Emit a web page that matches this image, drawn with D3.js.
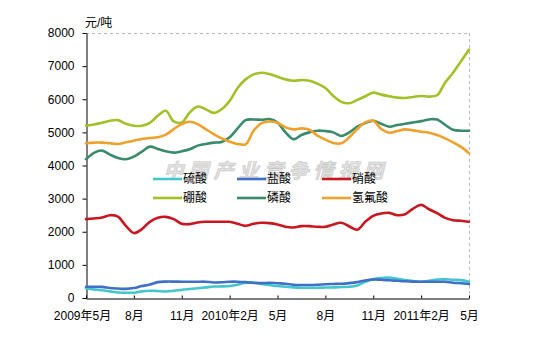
<!DOCTYPE html>
<html>
<head>
<meta charset="utf-8">
<script src="https://cdn.jsdelivr.net/npm/d3@7"></script>
<style>
  html, body { margin: 0; padding: 0; background: #fff; }
  svg { display: block; }
  text { font-family: "Liberation Sans", Arial, "Noto Sans CJK SC", sans-serif; }
</style>
</head>
<body>
<svg id="chart" width="545" height="347"></svg>
<script>
// Half-monthly price points, May 2009 – May 2011 (元/吨)
const periods = d3.range(49).map(i => {
  const m = 4 + Math.floor(i / 2);          // months since Jan 2009, 0-based
  return `${2009 + Math.floor(m / 12)}-${(m % 12) + 1}-${i % 2 ? "下" : "上"}`;
});

const xTickIdx = [0, 6, 12, 18, 24, 30, 36, 42, 48];
const xTickLabels = ["2009年5月", "8月", "11月", "2010年2月", "5月", "8月", "11月", "2011年2月", "5月"];
const yTicks = [0, 1000, 2000, 3000, 4000, 5000, 6000, 7000, 8000];

const seriesNames = ["硫酸", "盐酸", "硝酸", "硼酸", "磷酸", "氢氟酸"];
const seriesColors = ["#44c6cf", "#3f6fc6", "#c9171f", "#a2c127", "#3a8b6c", "#efa12c"];

const sulfuric = [290, 260, 235, 200, 165, 160, 160, 200, 220, 210, 195, 215, 245, 270, 295, 320, 345,
  350, 360, 400, 460, 470, 420, 390, 360, 340, 320, 310, 310, 310, 315, 320, 330, 340, 380, 490,
  570, 605, 615, 580, 545, 510, 490, 520, 560, 565, 550, 540, 490];
const hydrochloric = [340, 340, 335, 300, 285, 275, 300, 360, 410, 480, 495, 495, 492, 492, 492, 492, 470,
  475, 492, 492, 480, 455, 450, 460, 445, 430, 400, 392, 392, 400, 415, 423, 430, 450, 480, 530,
  560, 550, 535, 520, 505, 495, 492, 492, 492, 490, 462, 445, 423];
const nitric = [2380, 2400, 2430, 2500, 2460, 2180, 1960, 2080, 2300, 2420, 2450, 2380, 2240, 2230, 2280,
  2300, 2300, 2300, 2300, 2240, 2180, 2240, 2270, 2260, 2220, 2150, 2130, 2170, 2170, 2150, 2150,
  2220, 2270, 2160, 2060, 2300, 2480, 2550, 2570, 2500, 2530, 2700, 2810, 2680, 2560, 2420, 2350,
  2330, 2300];
const boric = [5200, 5240, 5290, 5350, 5370, 5260, 5200, 5200, 5290, 5500, 5650, 5330, 5300, 5600, 5780,
  5700, 5590, 5700, 5950, 6340, 6600, 6750, 6800, 6760, 6680, 6600, 6560, 6580, 6560, 6470, 6340,
  6100, 5920, 5880, 5980, 6090, 6200, 6140, 6090, 6050, 6040, 6070, 6100, 6080, 6120, 6500, 6800,
  7150, 7500];
const phosphoric = [4190, 4380, 4450, 4330, 4230, 4190, 4270, 4420, 4570, 4500, 4430, 4390, 4430, 4490,
  4600, 4650, 4690, 4710, 4850, 5120, 5370, 5390, 5380, 5400, 5300, 5000, 4790, 4920, 5000, 5050,
  5040, 5000, 4890, 5000, 5170, 5280, 5350, 5260, 5170, 5220, 5260, 5300, 5340, 5390, 5390, 5230,
  5080, 5050, 5050];
const hydrofluoric = [4670, 4690, 4690, 4670, 4650, 4700, 4750, 4800, 4830, 4850, 4930, 5100, 5250, 5320,
  5250, 5100, 4950, 4820, 4720, 4650, 4640, 5050, 5280, 5330, 5290, 5150, 5090, 5120, 5080, 4900,
  4780, 4680, 4670, 4850, 5100, 5300, 5350, 5100, 4990, 5040, 5090, 5060, 5020, 4990, 4920, 4820,
  4700, 4560, 4370];

const seriesValues = [sulfuric, hydrochloric, nitric, boric, phosphoric, hydrofluoric];

const svg = d3.select("#chart");
svg.append("rect").attr("width", 545).attr("height", 347).attr("fill", "#fff");

const x = d3.scaleLinear().domain([0, periods.length - 1]).range([86, 469]);
const y = d3.scaleLinear().domain([0, 8000]).range([298, 33]);

// frame: dashed top and right edges
svg.append("line").attr("x1", x(0)).attr("x2", x(48)).attr("y1", y(8000) + 0.5).attr("y2", y(8000) + 0.5)
  .attr("stroke", "#b8b8b8").attr("stroke-dasharray", "3,3");
svg.append("line").attr("x1", x(48) + 0.5).attr("x2", x(48) + 0.5).attr("y1", y(8000)).attr("y2", y(0))
  .attr("stroke", "#b8b8b8").attr("stroke-dasharray", "3,3");

// watermark
svg.append("text")
  .attr("x", 276).attr("y", 178)
  .attr("text-anchor", "middle")
  .attr("font-size", 20).attr("font-weight", "bold").attr("font-style", "italic")
  .attr("letter-spacing", 5)
  .attr("fill", "#e2e2e2").attr("stroke", "#c9c9c9").attr("stroke-width", 0.6)
  .style("font-family", "'Noto Sans CJK SC', sans-serif")
  .text("中国产业竞争情报网");

// axes
const yAxis = d3.axisLeft(y).tickValues(yTicks).tickSize(4).tickSizeOuter(0).tickPadding(8)
  .tickFormat(d3.format("d"));
const gy = svg.append("g").attr("transform", "translate(86.5,0)").call(yAxis);
gy.selectAll("text").attr("font-size", 12).attr("fill", "#000");
gy.selectAll("line, path").attr("stroke", "#000");

const xAxis = d3.axisBottom(x).tickValues(xTickIdx).tickSize(-3).tickSizeOuter(0).tickPadding(13)
  .tickFormat((d, i) => xTickLabels[i]);
const gx = svg.append("g").attr("transform", "translate(0,298.5)").call(xAxis);
gx.selectAll("text").attr("font-size", 12).attr("fill", "#000");
gx.selectAll("line, path").attr("stroke", "#000");
gx.select(".tick text").attr("dx", -4);

svg.append("text").attr("x", 85).attr("y", 27).attr("font-size", 12).attr("fill", "#000").text("元/吨");

// series lines
const line = d3.line()
  .x((d, i) => x(i))
  .y(d => y(d))
  .curve(d3.curveCatmullRom.alpha(0.5));

seriesValues.forEach((vals, s) => {
  svg.append("path")
    .datum(vals)
    .attr("d", line)
    .attr("fill", "none")
    .attr("stroke", seriesColors[s])
    .attr("stroke-width", 2.6)
    .attr("stroke-linejoin", "round")
    .attr("stroke-linecap", "round");
});

// legend: two rows of three
const legendCols = [153, 237, 322];
const legendRows = [179, 198];
seriesNames.forEach((name, i) => {
  const lx = legendCols[i % 3], ly = legendRows[Math.floor(i / 3)];
  const g = svg.append("g").attr("transform", `translate(${lx},${ly})`);
  g.append("line").attr("x1", 0).attr("x2", 29).attr("y1", 0).attr("y2", 0)
    .attr("stroke", seriesColors[i]).attr("stroke-width", 2.6);
  g.append("text").attr("x", 30).attr("y", 0).attr("dy", "0.35em")
    .attr("font-size", 12).attr("fill", "#000").text(name);
});
</script>
</body>
</html>
